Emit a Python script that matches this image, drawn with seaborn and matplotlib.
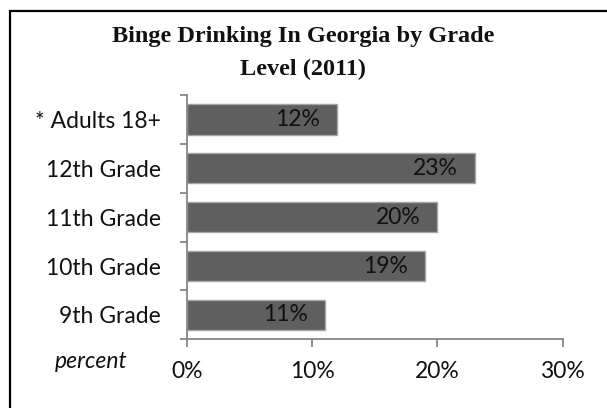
import matplotlib
matplotlib.use("Agg")
import matplotlib.pyplot as plt
from matplotlib.patches import Rectangle
from matplotlib.ticker import PercentFormatter, FixedLocator, NullFormatter
import seaborn as sns
import pandas as pd

# Binge drinking rates, percent of each group (top to bottom)
groups = ["* Adults 18+", "12th Grade", "11th Grade", "10th Grade", "9th Grade"]
rates = [12, 23, 20, 19, 11]
x_ticks = [0, 10, 20, 30]
title_lines = ["Binge Drinking In Georgia by Grade", "Level (2011)"]

df = pd.DataFrame({"group": groups, "rate": rates})

sns.set_theme(style="white")
plt.rcParams["font.family"] = ["Lato", "DejaVu Sans"]

W, H = 607, 408
fig = plt.figure(figsize=(W / 100, H / 100), dpi=100)
ax = fig.add_axes([186.7 / W, 1 - 339.3 / H, (562.6 - 186.7) / W, (339.3 - 95) / H])

bar_color = "#5f5f5f"
sns.barplot(data=df, x="rate", y="group", order=groups, orient="h",
            color=bar_color, width=0.62, edgecolor="#a6a6a6", linewidth=1.0,
            saturation=1, ax=ax)

label_size = 16.5
for patch, val in zip(ax.patches, rates):
    y = patch.get_y() + patch.get_height() / 2
    ax.annotate(f"{val:.0f}%", xy=(val, y), xytext=(-12.2, 0),
                textcoords="offset points", ha="right", va="center",
                fontsize=label_size, color="#111111")

ax.set_xlim(0, 30)
ax.set_ylim(len(groups) - 0.5, -0.5)
ax.set_xticks(x_ticks)
ax.xaxis.set_major_formatter(PercentFormatter(decimals=0))
ax.set_xlabel("")
ax.set_ylabel("")

spine_color = "#868686"
for side in ["top", "right"]:
    ax.spines[side].set_visible(False)
for side in ["left", "bottom"]:
    ax.spines[side].set_color(spine_color)
    ax.spines[side].set_linewidth(1.3)

ax.tick_params(axis="x", which="major", direction="out", length=5.5, width=1.3,
               color=spine_color, labelsize=label_size, labelcolor="#111111",
               pad=10, bottom=True)
ax.tick_params(axis="y", which="major", length=0, labelsize=label_size,
               labelcolor="#111111", pad=18.7)
ax.yaxis.set_minor_locator(FixedLocator([i - 0.5 for i in range(len(groups) + 1)]))
ax.yaxis.set_minor_formatter(NullFormatter())
ax.tick_params(axis="y", which="minor", direction="out", length=5, width=1.3,
               color=spine_color, left=True)

for line, base in zip(title_lines, [42, 75]):
    fig.text(0.5, 1 - base / H, line, ha="center", va="baseline",
             fontsize=17.5, fontweight="bold", family="Liberation Serif",
             color="#111111")

fig.text(127 / W, 1 - 368 / H, "percent", ha="right", va="baseline",
         fontsize=label_size, style="italic", color="#111111")

fig.add_artist(Rectangle((10 / W, -0.2), 1.2, 1 - 11 / H + 0.2,
                         transform=fig.transFigure, fill=False,
                         edgecolor="black", linewidth=1.6))

fig.savefig("out.png", dpi=100)
